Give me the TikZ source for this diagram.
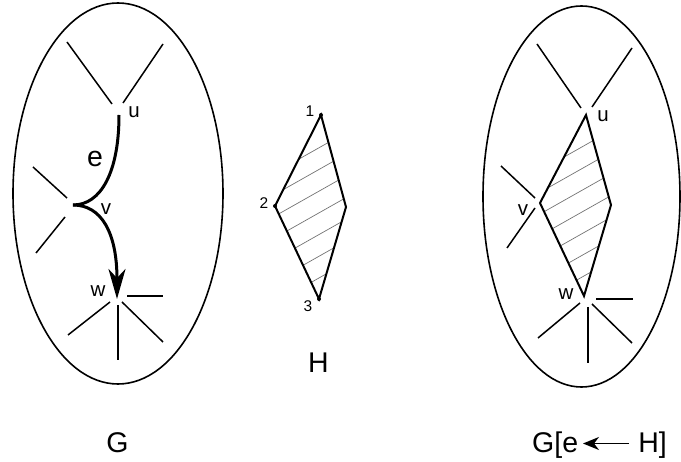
\documentclass[tikz,border=0pt]{standalone}
\usepackage{fontspec}
\setmainfont{Liberation Sans}
\usetikzlibrary{arrows.meta}
\begin{document}
\begin{tikzpicture}[x=1pt,y=-1pt,
  edge/.style={line width=1.6pt},
  stub/.style={line width=1.5pt},
  rhomb/.style={line width=2pt, line join=miter},
  hatch/.style={line width=0.7pt, black!55},
  lbl/.style={inner sep=0pt, anchor=base, font=\fontsize{20.5}{20.5}\selectfont},
  big/.style={inner sep=0pt, anchor=base, font=\fontsize{28.5}{28.5}\selectfont},
  num/.style={inner sep=0pt, anchor=base, font=\fontsize{15.5}{15.5}\selectfont},
  vdot/.style={circle, fill=black, inner sep=0pt, minimum size=4pt}]
\useasboundingbox (0,0) rectangle (681,462);

% ---------- left graph G ----------
\draw[edge] (118,193.5) ellipse [x radius=105, y radius=190.5];
\coordinate (u) at (119,115);
\coordinate (v) at (73,205);
\coordinate (w) at (117,299);
\draw[stub] (67,42) -- (112,104);
\draw[stub] (123,103) -- (163,44);
\draw[stub] (33,167) -- (67,198);
\draw[stub] (65,217) -- (36,253);
\draw[stub] (127,296) -- (163,296);
\draw[stub] (110,302) -- (68,335);
\draw[stub] (118,305) -- (118,360);
\draw[stub] (122,302) -- (163,342);
\draw[line width=3pt] (u) .. controls (119,172) and (101,205) .. (v);
\draw[line width=3pt, -{Stealth[length=30pt, width=17pt, inset=9pt]}]
  (v) .. controls (101,205) and (117,232) .. (w);
\node[lbl] (lu) at (134,118) {u};
\node[big] (le) at (95,167) {e};
\node[lbl] (lv) at (106,215) {v};
\node[lbl] (lw) at (98,297) {w};
\node[big] (lG) at (117.5,453) {G};

% ---------- H ----------
\coordinate (h1) at (321,115);
\coordinate (h2) at (275,206);
\coordinate (hr) at (346,207);
\coordinate (h3) at (319,299);
\begin{scope}
  \clip (h1) -- (hr) -- (h3) -- (h2) -- cycle;
  \foreach \a/\b in {181.1/124.6, 202.8/146.3, 224.5/168, 246.2/189.7, 267.9/211.4, 289.6/233.1, 311.3/254.8}
    \draw[hatch] (260,\a) -- (360,\b);
\end{scope}
\draw[rhomb] (h1) -- (hr) -- (h3) -- (h2) -- cycle;
\node[vdot] at (h1) {};
\node[vdot] at (h2) {};
\node[vdot] at (h3) {};
\node[num] (n1) at (310,117) {1};
\node[num] (n2) at (264,209) {2};
\node[num] (n3) at (308,312) {3};
\node[big] (lH) at (318.5,373) {H};

% ---------- right graph G[e <- H] ----------
\draw[edge] (581.5,196.5) ellipse [x radius=98.5, y radius=190.5];
\coordinate (ru) at (586,115);
\coordinate (rv) at (540,203);
\coordinate (rr) at (611,205);
\coordinate (rw) at (584,296);
\draw[stub] (537,44) -- (581,108);
\draw[stub] (592,107) -- (632,48);
\draw[stub] (501,166) -- (535,198);
\draw[stub] (535,208) -- (507,248);
\draw[stub] (596,299) -- (633,299);
\draw[stub] (580,303) -- (538,338);
\draw[stub] (588,307) -- (588,363);
\draw[stub] (592,304) -- (632,343);
\begin{scope}
  \clip (ru) -- (rr) -- (rw) -- (rv) -- cycle;
  \begin{scope}[shift={(265,-2)}]
  \foreach \a/\b in {181.1/124.6, 202.8/146.3, 224.5/168, 246.2/189.7, 267.9/211.4, 289.6/233.1, 311.3/254.8}
    \draw[hatch] (260,\a) -- (360,\b);
  \end{scope}
\end{scope}
\draw[rhomb] (ru) -- (rr) -- (rw) -- (rv) -- cycle;
\node[lbl] (ru2) at (603,122) {u};
\node[lbl] (rv2) at (523,216) {v};
\node[lbl] (rw2) at (566,300) {w};

% ---------- G[e <- H] label ----------
\node[big, anchor=base west] (gl) at (532,453) {G[e};
\node[big, anchor=base east] (gr) at (667,453) {H]};
\coordinate (ar1) at (629,443.5);
\coordinate (ar2) at (583,443.5);
\draw[line width=1.5pt, -{Stealth[length=16pt, width=13pt, inset=5pt]}] (ar1) -- (ar2);
\end{tikzpicture}
\end{document}
